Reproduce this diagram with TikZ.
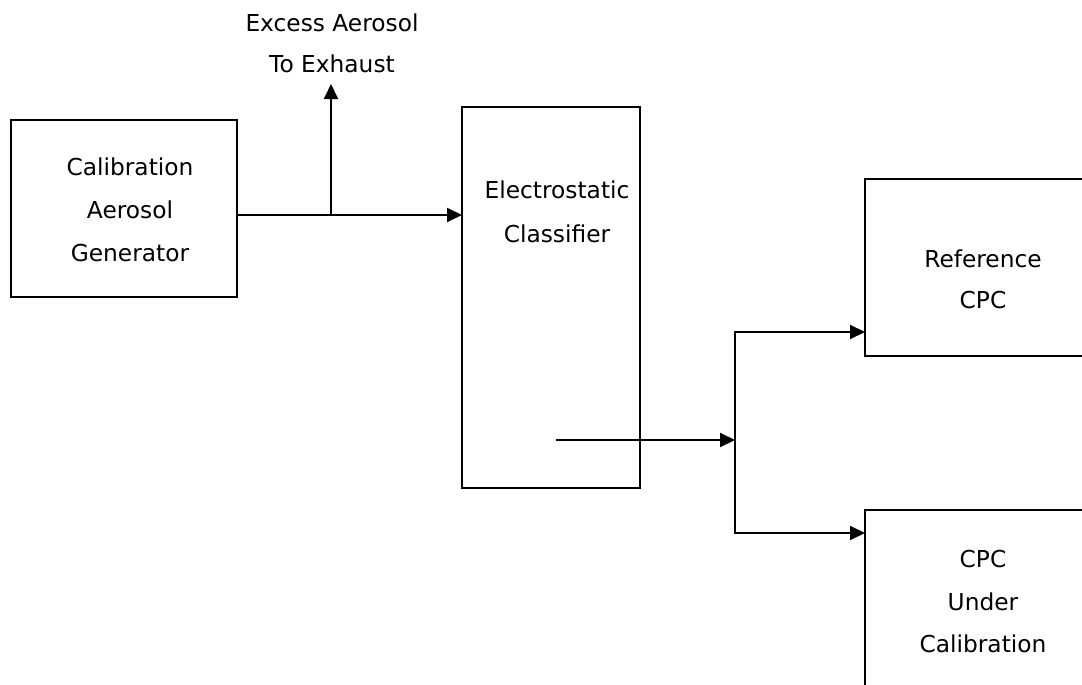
\documentclass[tikz,border=0pt]{standalone}
\usepackage{fontspec}
\setmainfont{DejaVu Sans}
\usetikzlibrary{arrows.meta}
\begin{document}
\begin{tikzpicture}[x=1pt,y=-1pt,line width=2pt,line join=miter,
  box/.style={draw,line width=2pt,inner sep=0pt,outer sep=0pt,anchor=north west},
  lbl/.style={font=\fontsize{23.3}{28}\selectfont,anchor=base,inner sep=0pt},
  tip/.tip={Triangle[length=15pt,width=14pt]},
  flow/.style={-tip,line width=2pt}]
\useasboundingbox (0,0) rectangle (1082,685);
\clip (0,0) rectangle (1082,685);
% boxes
\node[box,minimum width=226pt,minimum height=177pt] (gen) at (11,120) {};
\node[box,minimum width=178pt,minimum height=381pt] (cls) at (462,107) {};
\node[box,minimum width=240pt,minimum height=177pt] (ref) at (865,179) {};
\node[box,minimum width=240pt,minimum height=200pt] (dut) at (865,510) {};
% labels
\node[lbl] (g1) at (130,175) {Calibration};
\node[lbl] (g2) at (130,218) {Aerosol};
\node[lbl] (g3) at (130,261) {Generator};
\node[lbl] (e1) at (332,32) {Excess Aerosol};
\node[lbl] (e2) at (332,73) {To Exhaust};
\node[lbl] (c1) at (557,198) {Electrostatic};
\node[lbl] (c2) at (557,242) {Classifier};
\node[lbl] (r1) at (983,267) {Reference};
\node[lbl] (r2) at (983,308) {CPC};
\node[lbl] (d1) at (983,567) {CPC};
\node[lbl] (d2) at (983,610) {Under};
\node[lbl] (d3) at (983,652) {Calibration};
% connectors
\coordinate (split) at (331,215);
\coordinate (exh) at (331,84);
\draw[flow] (gen.east |- split) -- (cls.west |- split);
\draw[flow] (split) -- (exh);
\coordinate (out) at (556,440);
\coordinate (junc) at (735,440);
\draw[flow] (out) -- (junc);
\coordinate (jt) at (735,332);
\coordinate (jb) at (735,533);
\draw[tip-tip] (ref.west |- jt) -- (jt) -- (jb) -- (dut.west |- jb);
\end{tikzpicture}
\end{document}
